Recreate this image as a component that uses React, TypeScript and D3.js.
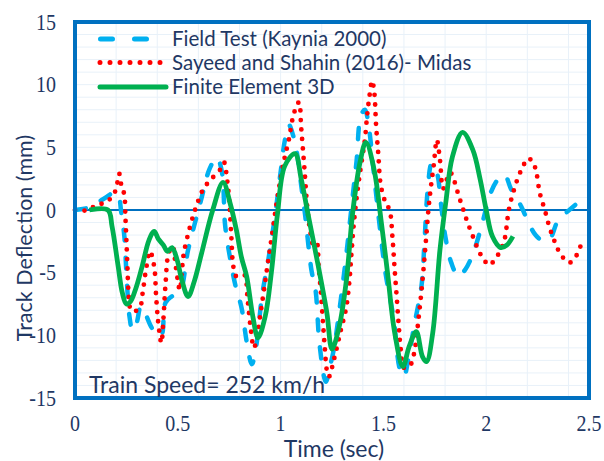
import React from "react";
import * as d3 from "d3";

const xTicks = [0, 0.5, 1, 1.5, 2, 2.5];
const yTicks = [-15, -10, -5, 0, 5, 10, 15];
const xTickLabels = ["0", "0.5", "1", "1.5", "2", "2.5"];
const yTickLabels = ["-15", "-10", "-5", "0", "5", "10", "15"];
const seriesNames = ["Field Test (Kaynia 2000)", "Sayeed and Shahin (2016)- Midas", "Finite Element 3D"];

const fieldTest: [number, number][] = [
  [0, 0], [0.07, 0.2], [0.1, 0.5], [0.15, 1.0], [0.19, 1.4], [0.21, 1.2], [0.225, -0.2], [0.24, -2.1],
  [0.25, -5], [0.265, -8.5], [0.28, -9.6], [0.3, -9.0], [0.32, -7.7], [0.34, -8.2], [0.37, -9.3],
  [0.4, -10.0], [0.42, -10.0], [0.44, -7.4], [0.47, -6.9], [0.51, -6.5], [0.55, -3.2], [0.61, 0.6],
  [0.655, 3.3], [0.69, 4.2], [0.715, 3.0], [0.73, -1.2], [0.755, -3.9], [0.78, -6.0], [0.81, -7.8],
  [0.835, -10.5], [0.86, -12.3], [0.88, -11.0], [0.91, -6.8], [0.94, -4], [0.97, -0.8], [1.0, 3],
  [1.02, 5.5], [1.04, 6.8], [1.06, 6.0], [1.08, 4.5], [1.1, 2], [1.12, -0.5], [1.15, -4.8],
  [1.17, -6.4], [1.19, -10.8], [1.22, -13.7], [1.24, -12.5], [1.26, -11.0], [1.29, -7.5], [1.32, -3.5],
  [1.35, 1], [1.37, 4], [1.39, 7.5], [1.41, 8.0], [1.43, 6.5], [1.45, 3.5], [1.48, -1], [1.51, -5],
  [1.55, -8.7], [1.58, -12.7], [1.6, -13.3], [1.62, -12], [1.65, -9.2], [1.685, -6.1], [1.7, -2.5],
  [1.715, 1.5], [1.735, 3.7], [1.76, 3], [1.78, 0.5], [1.8, -2], [1.83, -4.2], [1.865, -5.3],
  [1.9, -4.7], [1.94, -3.3], [1.985, -0.8], [2.02, 1.3], [2.06, 2.5], [2.09, 2.8], [2.12, 1.7],
  [2.17, 0.3], [2.2, -0.8], [2.24, -2.0], [2.28, -2.5], [2.31, -2.3], [2.35, -0.8], [2.39, -0.2],
  [2.44, 0.5], [2.48, 1.0],
];

const midas: [number, number][] = [
  [0, 0], [0.07, 0], [0.1, 0.4], [0.15, 0.6], [0.19, 1.3], [0.205, 2.1], [0.215, 2.9], [0.225, 2.0],
  [0.24, 1.2], [0.245, -0.5], [0.25, -2.4], [0.255, -4.5], [0.26, -6.5], [0.27, -7.9], [0.285, -8.1],
  [0.315, -7.8], [0.33, -6.5], [0.345, -4.8], [0.365, -3.3], [0.385, -4.5], [0.395, -7], [0.405, -9],
  [0.42, -10.6], [0.43, -8.7], [0.44, -6], [0.455, -3.5], [0.475, -2.9], [0.49, -4.5], [0.51, -6.4],
  [0.52, -4.8], [0.53, -3.4], [0.56, -1.3], [0.59, 0.3], [0.625, 1.7], [0.665, 2.5], [0.71, 3.3],
  [0.725, 3.8], [0.74, 2.4], [0.75, 0.8], [0.76, -2], [0.77, -4.5], [0.785, -5.3], [0.81, -5.2],
  [0.825, -5.2], [0.84, -7.2], [0.855, -9.5], [0.87, -11.0], [0.885, -10.2], [0.9, -8.5], [0.92, -6.3],
  [0.94, -4.0], [0.96, -1.8], [0.98, 0.5], [1.0, 2.5], [1.02, 4.2], [1.04, 5.6], [1.06, 7.4],
  [1.08, 8.4], [1.09, 8.6], [1.1, 6.6], [1.115, 3.5], [1.13, 0.2], [1.145, -1.8], [1.16, -2.8],
  [1.175, -2.6], [1.185, -4.5], [1.195, -6.4], [1.205, -8.7], [1.215, -11], [1.225, -12.8],
  [1.235, -13.3], [1.26, -11.9], [1.29, -9.8], [1.32, -7.7], [1.335, -5.6], [1.345, -3.4],
  [1.355, -1.3], [1.37, 1.0], [1.39, 3.4], [1.41, 5.6], [1.42, 7.4], [1.43, 8.8], [1.445, 10.3],
  [1.455, 9.5], [1.465, 6.6], [1.475, 4.5], [1.487, 2.0], [1.51, 0.6], [1.53, 0], [1.545, -2.4],
  [1.555, -4.8], [1.565, -7], [1.575, -9.3], [1.585, -11.2], [1.6, -12.6], [1.63, -12.4],
  [1.655, -10.9], [1.67, -8.8], [1.685, -6.5], [1.7, -3.8], [1.71, -1.8], [1.72, 0.2], [1.73, 1.7],
  [1.745, 3.6], [1.76, 5.6], [1.775, 4.0], [1.79, 1.7], [1.805, 2.3], [1.825, 3.0], [1.845, 2.3],
  [1.865, 1.2], [1.885, 0.2], [1.905, -0.8], [1.935, -2.1], [1.965, -3.3], [1.99, -4.0],
  [2.015, -4.4], [2.04, -4.0], [2.07, -3.2], [2.09, -2.3], [2.11, 0], [2.135, 1.6], [2.16, 2.8],
  [2.18, 3.5], [2.2, 4.1], [2.225, 3.9], [2.245, 2.9], [2.26, 1.4], [2.285, 0], [2.31, -1.5],
  [2.335, -2.6], [2.36, -3.5], [2.38, -3.9], [2.405, -4.2], [2.43, -3.9], [2.45, -3.2], [2.47, -2.5],
];

const fe3d: [number, number][] = [
  [0.07, 0], [0.16, 0], [0.18, -1.3], [0.21, -4.5], [0.23, -6.6], [0.25, -7.5], [0.27, -7.3],
  [0.295, -6.3], [0.325, -4.6], [0.36, -2.4], [0.385, -1.7], [0.405, -2.3], [0.43, -2.8],
  [0.45, -3.3], [0.472, -3.0], [0.497, -4.0], [0.52, -5.6], [0.55, -6.9], [0.58, -5.7], [0.615, -3.5],
  [0.67, 0], [0.72, 2.2], [0.755, 0.5], [0.785, -1.6], [0.81, -3.8], [0.835, -5.3], [0.865, -8.5],
  [0.89, -10.2], [0.925, -8.5], [0.955, -5.0], [0.985, -0.3], [1.02, 3.5], [1.07, 4.5], [1.1, 2.5],
  [1.133, -0.3], [1.18, -4.2], [1.225, -8.2], [1.25, -11.1], [1.285, -9.3], [1.32, -5.6],
  [1.35, -0.3], [1.385, 3.7], [1.415, 5.4], [1.455, 3.2], [1.49, -1.0], [1.52, -5], [1.555, -9.8],
  [1.595, -12.5], [1.625, -10.9], [1.66, -9.7], [1.69, -11.7], [1.71, -12.1], [1.74, -9.8],
  [1.775, -3.2], [1.805, 0.8], [1.835, 4.2], [1.885, 6.2], [1.935, 4.8], [1.97, 2.5], [2.0, 0],
  [2.03, -2.1], [2.07, -3.0], [2.1, -2.8], [2.13, -2.1],
];

const W = 604;
const H = 461;
const left = 75;
const right = 589;
const top = 22;
const bottom = 398;
const navy = "#1f3864";
const frameBlue = "#0070c0";
const colors = ["#00b0f0", "#ff0000", "#00b050"];

export default function App() {
  const x = d3.scaleLinear().domain([0, 2.5]).range([left, right]);
  const y = d3.scaleLinear().domain([-15, 15]).range([bottom, top]);
  const line = d3
    .line<[number, number]>()
    .x((d) => x(d[0]))
    .y((d) => y(d[1]))
    .curve(d3.curveCatmullRom.alpha(0.5));

  const vGrid = d3.range(0, 2.5001, 0.2);
  const hGrid = d3.range(-15, 15.001, 1);
  const sans = "Lato, 'Open Sans', sans-serif";
  const serif = "'Liberation Serif', 'DejaVu Serif', serif";

  return (
    <svg width={W} height={H} style={{ position: "absolute", left: 0, top: 0 }}>
      <rect x={0} y={0} width={W} height={H} fill="#ffffff" />
      <g>
        {vGrid.map((v) => (
          <line key={"v" + v} x1={x(v)} x2={x(v)} y1={top} y2={bottom} stroke="#e8f1f9" strokeWidth={1} />
        ))}
        {hGrid.map((v) => (
          <line key={"h" + v} x1={left} x2={right} y1={y(v)} y2={y(v)} stroke="#e8f1f9" strokeWidth={1} />
        ))}
      </g>
      <line x1={left} x2={right} y1={y(0)} y2={y(0)} stroke={frameBlue} strokeWidth={2} />
      <path d={line(fieldTest) || ""} fill="none" stroke={colors[0]} strokeWidth={4.5} strokeDasharray="11 17" strokeLinecap="round" />
      <path d={line(midas) || ""} fill="none" stroke={colors[1]} strokeWidth={4.8} strokeDasharray="0 9.5" strokeLinecap="round" />
      <path d={line(fe3d) || ""} fill="none" stroke={colors[2]} strokeWidth={4.8} strokeLinejoin="round" />
      <rect x={left} y={top} width={right - left} height={bottom - top} fill="none" stroke={frameBlue} strokeWidth={4} />

      {/* legend */}
      <g fontFamily={sans} fontSize={20.5} fill={navy}>
        <line x1={100.5} x2={147} y1={39} y2={39} stroke={colors[0]} strokeWidth={5} strokeDasharray="12 22" strokeLinecap="round" />
        <line x1={100} x2={162} y1={62.5} y2={62.5} stroke={colors[1]} strokeWidth={5} strokeDasharray="0 10" strokeLinecap="round" />
        <line x1={100} x2={166} y1={87} y2={87} stroke={colors[2]} strokeWidth={5} strokeLinecap="round" />
        {seriesNames.map((n, i) => (
          <text key={n} x={172} y={39 + i * 24} dy="0.36em">{n}</text>
        ))}
      </g>

      <text x={89} y={385} dy="0.36em" fontFamily={sans} fontSize={23} fill={navy}>Train Speed= 252 km/h</text>

      {/* y ticks */}
      <g fontFamily={serif} fontSize={20} fill={navy} textAnchor="end">
        {yTicks.map((v, i) => (
          <text key={v} transform={`translate(56,${y(v)}) scale(1,1.15)`} dy="0.34em">{yTickLabels[i]}</text>
        ))}
      </g>
      {/* x ticks */}
      <g fontFamily={serif} fontSize={20} fill={navy} textAnchor="middle">
        {xTicks.map((v, i) => (
          <text key={v} transform={`translate(${x(v)},423) scale(1,1.12)`} dy="0.34em">{xTickLabels[i]}</text>
        ))}
      </g>
      <text x={334} y={449} dy="0.34em" textAnchor="middle" fontFamily={sans} fontSize={23} fill={navy}>Time (sec)</text>
      <text transform={`translate(24,238) rotate(-90)`} dy="0.36em" textAnchor="middle" fontFamily={sans} fontSize={21.5} fill={navy}>Track Deflection (mm)</text>
    </svg>
  );
}
